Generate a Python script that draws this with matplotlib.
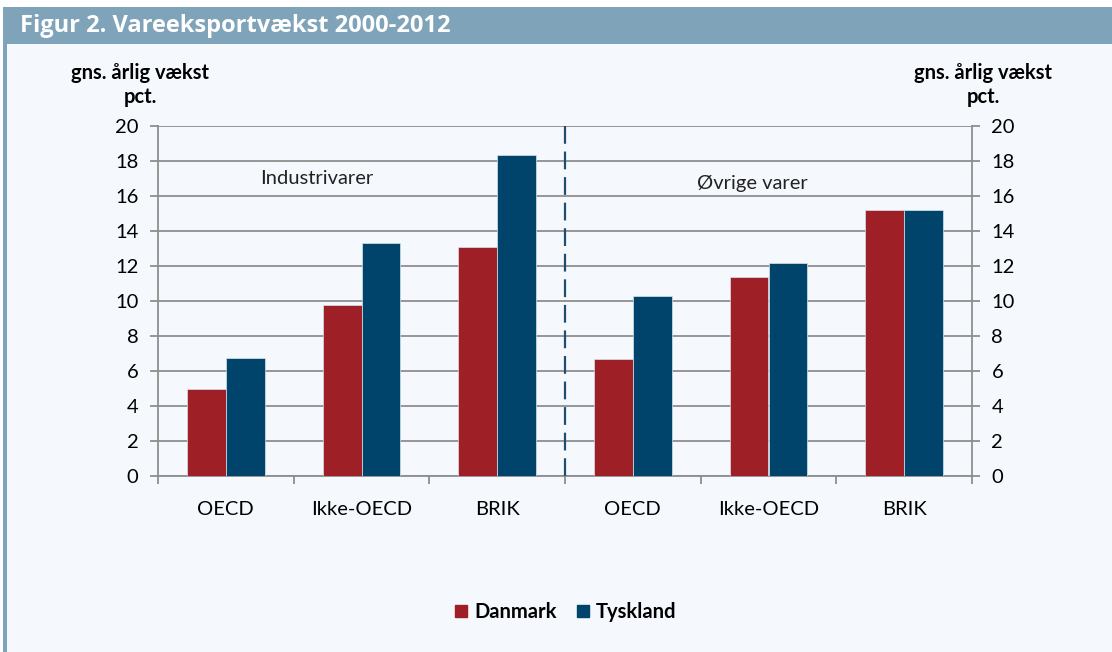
#!/usr/bin/env python3
"""
Figur 2. Vareeksportvaekst 2000-2012 - grouped bars, Danmark vs Tyskland.
"""
import matplotlib
matplotlib.use("Agg")
import matplotlib.pyplot as plt
from matplotlib.patches import Rectangle, Patch
import numpy as np

categories = ["OECD", "Ikke-OECD", "BRIK", "OECD", "Ikke-OECD", "BRIK"]
danmark = [5.0, 9.8, 13.1, 6.7, 11.4, 15.2]
tyskland = [6.75, 13.3, 18.35, 10.3, 12.2, 15.2]
yticks = [0, 2, 4, 6, 8, 10, 12, 14, 16, 18, 20]

RED = "#9e1f25"
BLUE = "#00446b"
BG = "#f5f9fd"
GRID = "#8e8e8e"

plt.rcParams["font.family"] = ["Lato", "DejaVu Sans"]

fig = plt.figure(figsize=(11.12, 6.52), dpi=100, facecolor=BG)
W, H = 1112, 652

# frame decorations: white top strip, banner, left strip
fig.patches.append(Rectangle((0, 1 - 7 / H), 1, 7 / H, transform=fig.transFigure,
                             facecolor="white", edgecolor="none", zorder=0))
fig.patches.append(Rectangle((0, 0), 3 / W, 1, transform=fig.transFigure,
                             facecolor="white", edgecolor="none", zorder=0))
fig.patches.append(Rectangle((3 / W, 1 - 44 / H), 1, 37 / H, transform=fig.transFigure,
                             facecolor="#7fa3b8", edgecolor="none", zorder=0))
fig.patches.append(Rectangle((3 / W, 0), 4 / W, 1 - 44 / H, transform=fig.transFigure,
                             facecolor="#7fa3b8", edgecolor="none", zorder=0))
fig.text(20 / W, 1 - 26 / H, "Figur 2. Vareeksportvækst 2000-2012", color="white",
         fontsize=17, fontweight="bold", va="center", ha="left",
         family=["Open Sans", "DejaVu Sans"])

ax = fig.add_axes([158 / W, 1 - 476 / H, (972 - 158) / W, (476 - 126) / H])
ax.set_facecolor(BG)

x = np.arange(len(categories)) + 0.5
bw = 0.287
ax.bar(x - bw / 2, danmark, bw, color=RED, edgecolor="#d7e3ee", linewidth=0.5,
       zorder=3, label="Danmark")
ax.bar(x + bw / 2, tyskland, bw, color=BLUE, edgecolor="#d7e3ee", linewidth=0.5,
       zorder=3, label="Tyskland")

ax.set_xlim(0, len(categories))
ax.set_ylim(0, 20)
ax.set_yticks(yticks)
ax.yaxis.grid(True, color=GRID, lw=1.3, zorder=1)
ax.set_axisbelow(True)

# divider between the two groups
ax.axvline(3, color="#1f4e6e", lw=1.6, ls=(0, (8, 3.5)), zorder=4)

for s in ["left", "right", "bottom", "top"]:
    ax.spines[s].set_color(GRID)
    ax.spines[s].set_linewidth(1.3)
ax.spines["top"].set_visible(False)

ax.set_xticks(np.arange(len(categories) + 1))
ax.set_xticklabels([])
ax.set_xticks(x, minor=True)
ax.set_xticklabels(categories, minor=True)
ax.tick_params(axis="x", which="major", length=6, width=1.3, color=GRID)
ax.tick_params(axis="x", which="minor", length=0, pad=18, labelsize=14.5)
ax.tick_params(axis="y", length=6, width=1.3, color=GRID, labelsize=14.5, pad=8)

ax2 = ax.twinx()
ax2.set_ylim(0, 20)
ax2.set_yticks(yticks)
ax2.tick_params(axis="y", length=6, width=1.3, color=GRID, labelsize=14.5, pad=8)
for s in ["left", "right", "bottom", "top"]:
    ax2.spines[s].set_visible(False)

ax.text(1.17, 17.0, "Industrivarer", ha="center", va="center", fontsize=14.5, color="#222222")
ax.text(4.38, 16.7, "Øvrige varer", ha="center", va="center", fontsize=14.5, color="#222222")

for xc in (140, 983):
    fig.text(xc / W, 1 - 73 / H, "gns. årlig vækst", ha="center", va="center",
             fontsize=14.5, fontweight="bold")
    fig.text(xc / W, 1 - 97 / H, "pct.", ha="center", va="center",
             fontsize=14.5, fontweight="bold")

handles = [Patch(color=RED, label="Danmark"), Patch(color=BLUE, label="Tyskland")]
leg = fig.legend(handles=handles, loc="center", bbox_to_anchor=(566 / W, 1 - 612 / H),
                 ncol=2, frameon=False, handlelength=0.6, handleheight=0.6,
                 handletextpad=0.35, columnspacing=1.0,
                 prop={"weight": "bold", "size": 14.5})

fig.savefig("out.png", dpi=100, facecolor=BG)
